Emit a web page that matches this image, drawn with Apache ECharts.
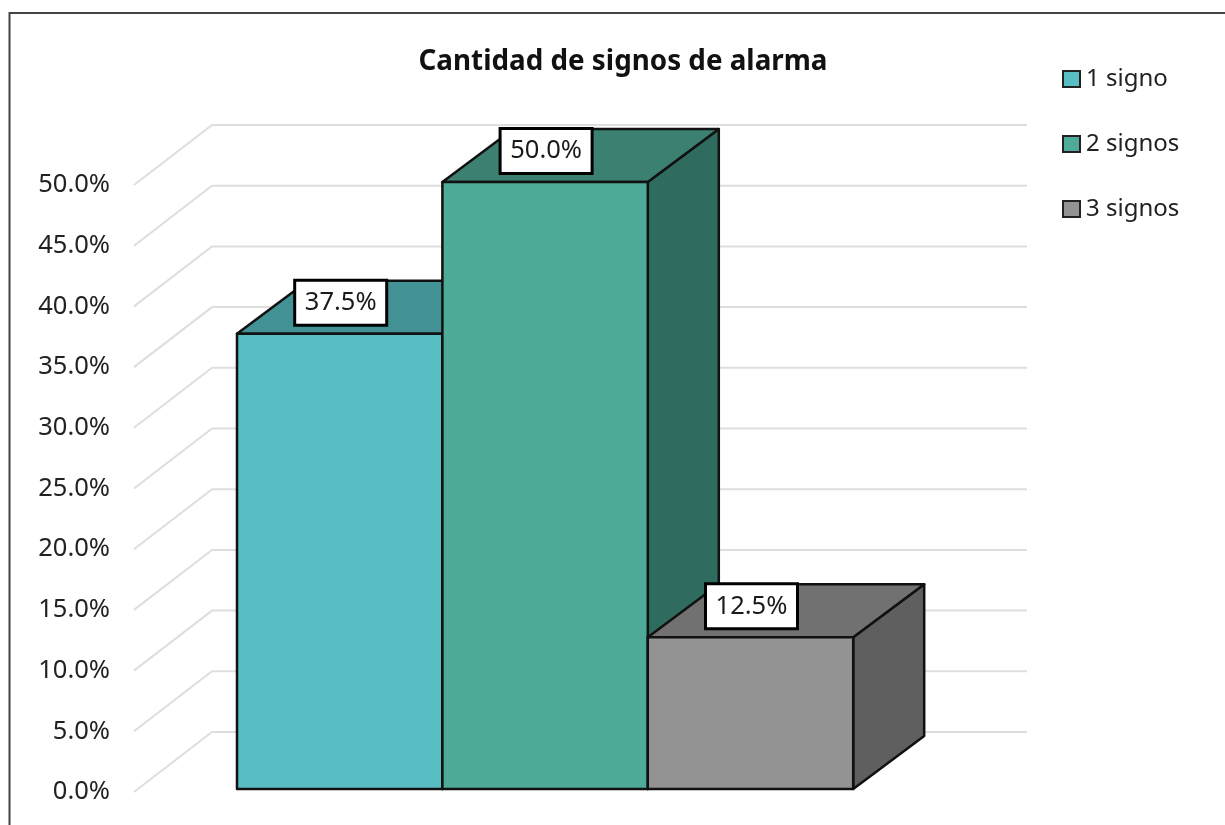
<!DOCTYPE html>
<html>
<head>
<meta charset="utf-8">
<style>html,body{margin:0;padding:0;background:#fff}#chart{width:1225px;height:825px}</style>
<script src="https://cdn.jsdelivr.net/npm/echarts@6/dist/echarts.min.js"></script>
</head>
<body>
<div id="chart"></div>
<script>
const titleText = 'Cantidad de signos de alarma';
const categories = [''];
const seriesNames = ['1 signo', '2 signos', '3 signos'];
const seriesValues = [37.5, 50.0, 12.5];
const tickValues = [0, 5, 10, 15, 20, 25, 30, 35, 40, 45, 50];
const frontColors = ['#58BEC4', '#4EAB98', '#939393'];
const topColors = ['#429295', '#3B8070', '#717171'];
const sideColors = ['#35787A', '#2F6B5E', '#5F5F5F'];

const FONT = '"Noto Sans", sans-serif';
const WALL_DX = 78, WALL_DY = -60;
const BAR_W = 205.4, BAR_START = -304.5, BAR_LIFT = -3, DEPTH_X = 71, DEPTH_Y = -53;
const LABEL_W = 92, LABEL_H = 45, LABEL_LIFT = 31, LABEL_SHIFT = 1;

function wallItem(params, api) {
  const cs = params.coordSys;
  const y = api.coord([0, api.value(1)])[1];
  return {
    type: 'polyline',
    shape: { points: [[cs.x, y], [cs.x + WALL_DX, y + WALL_DY], [cs.x + cs.width + WALL_DX, y + WALL_DY]] },
    style: { stroke: '#DEDEDE', lineWidth: 2, fill: null }
  };
}

function barItem(idx) {
  return function (params, api) {
    const top = api.coord([0, api.value(1)]);
    const base = api.coord([0, 0]);
    const x0 = base[0] + BAR_START + idx * BAR_W;
    const x1 = x0 + BAR_W;
    const yT = top[1] + BAR_LIFT;
    const yB = base[1] + BAR_LIFT;
    const edge = { stroke: '#111111', lineWidth: 2.5, lineJoin: 'round' };
    const cx = (x0 + x1) / 2 + LABEL_SHIFT;
    const cy = yT - LABEL_LIFT;
    return {
      type: 'group',
      children: [
        { type: 'polygon', shape: { points: [[x1, yT], [x1 + DEPTH_X, yT + DEPTH_Y], [x1 + DEPTH_X, yB + DEPTH_Y], [x1, yB]] },
          style: Object.assign({ fill: sideColors[idx] }, edge) },
        { type: 'polygon', shape: { points: [[x0, yT], [x0 + DEPTH_X, yT + DEPTH_Y], [x1 + DEPTH_X, yT + DEPTH_Y], [x1, yT]] },
          style: Object.assign({ fill: topColors[idx] }, edge) },
        { type: 'rect', shape: { x: x0, y: yT, width: BAR_W, height: yB - yT },
          style: Object.assign({ fill: frontColors[idx] }, edge) },
        { type: 'rect', z2: 50, shape: { x: cx - LABEL_W / 2, y: cy - LABEL_H / 2, width: LABEL_W, height: LABEL_H },
          style: { fill: '#FFFFFF', stroke: '#000000', lineWidth: 3 } },
        { type: 'text', z2: 51, x: cx, y: cy,
          style: { text: api.value(1).toFixed(1) + '%', fill: '#1a1a1a', font: '25.5px ' + FONT, align: 'center', verticalAlign: 'middle' } }
      ]
    };
  };
}

const series = [{
  type: 'custom', name: 'walls', silent: true, z: 1, clip: false,
  renderItem: wallItem, encode: { x: 0, y: 1 },
  data: tickValues.map(v => [0, v])
}];
seriesNames.forEach((n, i) => series.push({
  type: 'custom', name: n, z: 2 + i, clip: false, silent: true,
  renderItem: barItem(i), encode: { x: 0, y: 1 },
  itemStyle: { color: frontColors[i], borderColor: '#222222', borderWidth: 1.5 },
  data: [[0, seriesValues[i]]]
}));

const chart = echarts.init(document.getElementById('chart'), null, { renderer: 'canvas' });
chart.setOption({
  animation: false,
  backgroundColor: '#FFFFFF',
  title: {
    text: titleText, left: 618, top: 43, textAlign: 'center',
    textStyle: { fontFamily: FONT, fontSize: 27.8, fontWeight: 'bold', color: '#111111' }
  },
  legend: {
    orient: 'vertical', left: 1062, top: 62, padding: 0, itemWidth: 17, itemHeight: 16, itemGap: 31,
    icon: 'rect', selectedMode: false,
    data: seriesNames,
    textStyle: { fontFamily: FONT, fontSize: 24, color: '#222222', padding: [0, 0, 4, 1], lineHeight: 30 }
  },
  grid: { left: 134, top: 185, width: 815, height: 607, containLabel: false },
  xAxis: { type: 'category', data: categories, show: false },
  yAxis: {
    type: 'value', min: 0, max: 50, interval: 5,
    axisLine: { show: false }, axisTick: { show: false }, splitLine: { show: false },
    axisLabel: { margin: 24, fontFamily: FONT, fontSize: 25.5, color: '#222222', formatter: v => v.toFixed(1) + '%' }
  },
  graphic: [{
    type: 'rect', z: -1, silent: true,
    shape: { x: 9.5, y: 13, width: 1300, height: 900 },
    style: { fill: null, stroke: '#444444', lineWidth: 2 }
  }],
  series: series
});
</script>
</body>
</html>
